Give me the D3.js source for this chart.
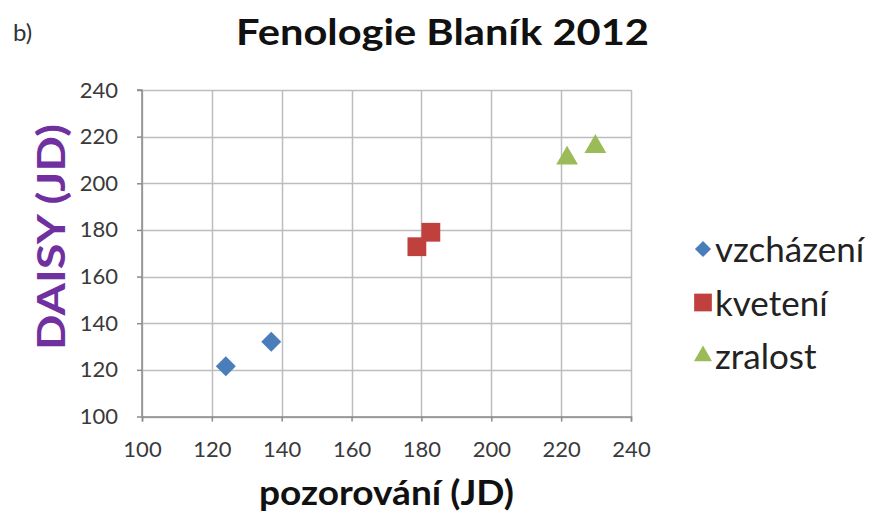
<!DOCTYPE html>
<html>
<head>
<meta charset="utf-8">
<script src="https://cdn.jsdelivr.net/npm/d3@7"></script>
<style>
  html, body { margin: 0; padding: 0; background: #fff; }
  svg { display: block; }
</style>
</head>
<body>
<svg id="chart" width="871" height="518"></svg>
<script>
// Phenology stages: observed day (pozorování) vs. DAISY model day, both in Julian days
const seriesNames = ["vzcházení", "kvetení", "zralost"];
const vzchazeniX = [124, 137];
const vzchazeniY = [121.5, 132];
const kveteniX = [178.7, 182.7];
const kveteniY = [172.8, 179];
const zralostX = [221.7, 229.8];
const zralostY = [210.7, 215.7];
const xTicks = [100, 120, 140, 160, 180, 200, 220, 240];
const yTicks = [100, 120, 140, 160, 180, 200, 220, 240];

const colors = ["#4A7EBB", "#C0403D", "#9BBB59"];
const symbols = [d3.symbolDiamond2, d3.symbolSquare2, d3.symbolTriangle2];
const symbolSizes = [255, 450, 340];
const legendSizes = [165, 400, 235];

const series = [
  { name: seriesNames[0], xs: vzchazeniX, ys: vzchazeniY },
  { name: seriesNames[1], xs: kveteniX, ys: kveteniY },
  { name: seriesNames[2], xs: zralostX, ys: zralostY }
];

const svg = d3.select("#chart");
const plot = { left: 142, right: 631, top: 90, bottom: 416.5 };

const x = d3.scaleLinear().domain([100, 240]).range([plot.left, plot.right]);
const y = d3.scaleLinear().domain([100, 240]).range([plot.bottom, plot.top]);

const font = "Lato, 'Open Sans', 'Liberation Sans', sans-serif";

// gridlines
const grid = svg.append("g");
grid.selectAll("line.h").data(yTicks).join("line")
  .attr("x1", plot.left).attr("x2", plot.right)
  .attr("y1", d => Math.round(y(d)) + 0.5).attr("y2", d => Math.round(y(d)) + 0.5)
  .attr("stroke", "#BDBDBD").attr("stroke-width", 1.5);
grid.selectAll("line.v").data(xTicks).join("line")
  .attr("y1", plot.top).attr("y2", plot.bottom)
  .attr("x1", d => Math.round(x(d)) + 0.5).attr("x2", d => Math.round(x(d)) + 0.5)
  .attr("stroke", "#BDBDBD").attr("stroke-width", 1.5);

// axes
const xAxis = d3.axisBottom(x).tickValues(xTicks).tickSize(5).tickPadding(20).tickFormat(d3.format("d"));
const yAxis = d3.axisLeft(y).tickValues(yTicks).tickSize(5).tickPadding(19).tickFormat(d3.format("d"));

const gx = svg.append("g").attr("transform", `translate(0,${plot.bottom})`).call(xAxis);
const gy = svg.append("g").attr("transform", `translate(${plot.left},0)`).call(yAxis);
[gx, gy].forEach(g => {
  g.select(".domain").attr("stroke", "#8C8C8C").attr("stroke-width", 1.5);
  g.selectAll(".tick line").attr("stroke", "#8C8C8C").attr("stroke-width", 1.5);
  g.selectAll(".tick text").attr("fill", "#3A3A3A")
    .style("font-family", font).style("font-size", "22px");
});
gy.select(".domain").attr("d", `M-5,${plot.top}H0V${plot.bottom}`);

// markers
series.forEach((s, i) => {
  svg.append("g").selectAll("path")
    .data(s.xs.map((v, j) => [v, s.ys[j]]))
    .join("path")
    .attr("transform", d => `translate(${x(d[0])},${y(d[1])})`)
    .attr("d", d3.symbol(symbols[i], symbolSizes[i]))
    .attr("fill", colors[i]);
});

// titles
svg.append("text").attr("x", 13).attr("y", 41).text("b)")
  .style("font-family", font).style("font-size", "24px").attr("fill", "#333");

svg.append("text").attr("x", 236).attr("y", 45)
  .attr("textLength", 413).attr("lengthAdjust", "spacingAndGlyphs")
  .text("Fenologie Blaník 2012")
  .style("font-family", font).style("font-weight", "bold").style("font-size", "36px").attr("fill", "#111");

svg.append("text").attr("transform", `translate(65,237) rotate(-90)`).attr("text-anchor", "middle")
  .attr("textLength", 226).attr("lengthAdjust", "spacingAndGlyphs")
  .text("DAISY (JD)")
  .style("font-family", font).style("font-weight", "bold").style("font-size", "38px").attr("fill", "#7030A0");

svg.append("text").attr("x", 259).attr("y", 505)
  .attr("textLength", 255).attr("lengthAdjust", "spacingAndGlyphs")
  .text("pozorování (JD)")
  .style("font-family", font).style("font-weight", "bold").style("font-size", "35px").attr("fill", "#111");

// legend
const legend = svg.append("g");
series.forEach((s, i) => {
  const ly = 249 + i * 53.5;
  legend.append("path")
    .attr("transform", `translate(703,${ly})`)
    .attr("d", d3.symbol(symbols[i], legendSizes[i]))
    .attr("fill", colors[i]);
  legend.append("text").attr("x", 715).attr("y", ly + 13).text(s.name)
    .style("font-family", font).style("font-size", "35px").attr("fill", "#222");
});
</script>
</body>
</html>
